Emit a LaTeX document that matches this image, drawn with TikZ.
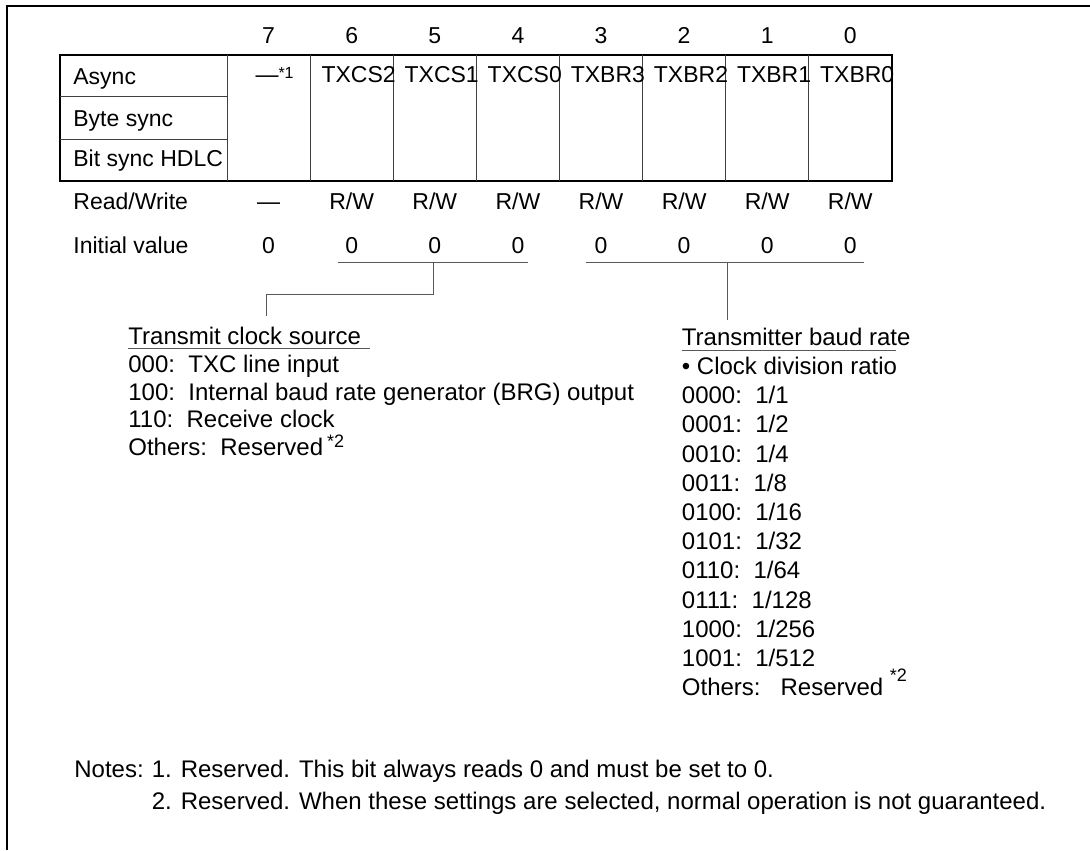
\documentclass[tikz,border=0pt]{standalone}
\usepackage{fontspec}
\setmainfont{Liberation Sans}
\usetikzlibrary{positioning}
\tikzset{
  frame line/.style={
    line width=1.25pt
  },
  reg box/.style={
    line width=1pt
  },
  cell line/.style={
    line width=0.5pt,
    color=black!75
  },
  lead line/.style={
    line width=0.5pt,
    color=black!65
  },
  tab text/.style={
    font=\fontsize{11.5}{13}\selectfont,
    inner sep=0pt,
    text height=1.6ex,
    text depth=0.4ex
  },
  list text/.style={
    anchor=west,
    font=\fontsize{12}{14}\selectfont,
    inner sep=0pt,
    text height=1.6ex,
    text depth=0.4ex
  }
}
\begin{document}
\begin{tikzpicture}[x=0.5pt, y=-0.5pt]
    \useasboundingbox (0,0) rectangle (1090,850);
    % 外框 (只有上边和左边)
    \draw[frame line] (7,850) -- (7,6) -- (1090,6);

    % 寄存器表格
    \draw[reg box] (60,55) rectangle (892,181);
    \draw[cell line] (60,97) -- (227,97);
    \draw[cell line] (60,139.5) -- (227,139.5);
    \foreach \i in {0,1,...,7} {
      \draw[cell line] (227+83.1*\i,55) -- (227+83.1*\i,181);
    }
    \node[tab text, anchor=west] (async) at (73,78) {Async};
    \node[tab text, anchor=west] (bytesync) at (73,120) {Byte sync};
    \node[tab text, anchor=west] (bitsync) at (73,160.5) {Bit sync HDLC};
    \node[tab text, anchor=west] (rwlabel) at (73,203) {Read/Write};
    \node[tab text, anchor=west] (initlabel) at (73,247) {Initial value};

    % 位号, 读写, 初始值
    \foreach \b [count=\i from 0] in {7,6,...,0} {
      \node[tab text] (bit\b) at (268.6+83.1*\i,37) {\b};
      \node[tab text] (rw\b) at (268.6+83.1*\i,203) {\ifnum\b=7 —\else R/W\fi};
      \node[tab text] (init\b) at (268.6+83.1*\i,247) {0};
    }

    % 位名称
    \node[tab text] (rsv) at (267,76) {—\rlap{\raisebox{0.35ex}{\fontsize{8}{9}\selectfont *1}}};
    \foreach \n [count=\i from 1] in {TXCS2,TXCS1,TXCS0,TXBR3,TXBR2,TXBR1,TXBR0} {
      \node[tab text, anchor=west] (name\i) at (227+83.1*\i+11,76) {\n};
    }

    % 引出线
    \coordinate (csl) at (338,262.5);
    \coordinate (csr) at (528,262.5);
    \coordinate (csm) at (433,262.5);
    \coordinate (csk) at (266,294.5);
    \coordinate (cse) at (266,316);
    \draw[lead line] (csl) -- (csr);
    \draw[lead line] (csm) |- (csk) -- (cse);
    \coordinate (brl) at (586,262.5);
    \coordinate (brr) at (864,262.5);
    \coordinate (brm) at (727,262.5);
    \coordinate (bre) at (727,320);
    \draw[lead line] (brl) -- (brr);
    \draw[lead line] (brm) -- (bre);

    % 时钟源说明
    \node[list text] (tcs) at (128,338.6) {Transmit clock source};
    \draw[lead line] (128,348) -- (370,348);
    \foreach \t [count=\i from 1] in {{000:\ \ TXC line input},
        {100:\ \ Internal baud rate generator (BRG) output},
        {110:\ \ Receive clock},
        {Others:\ \ Reserved\,\raisebox{0.6ex}{\fontsize{9}{10}\selectfont *2}}} {
      \node[list text] (tcs\i) at (128,338.6+27.6*\i) {\t};
    }

    % 波特率说明
    \node[list text] (tbr) at (681.5,339) {Transmitter baud rate};
    \draw[lead line] (681.5,350.5) -- (896,350.5);
    \foreach \t [count=\i from 1] in {{\textbullet\ Clock division ratio},
        {0000:\ \ 1/1}, {0001:\ \ 1/2}, {0010:\ \ 1/4}, {0011:\ \ 1/8},
        {0100:\ \ 1/16}, {0101:\ \ 1/32}, {0110:\ \ 1/64}, {0111:\ \ 1/128},
        {1000:\ \ 1/256}, {1001:\ \ 1/512},
        {Others:\ \ \ Reserved\ \raisebox{1.1ex}{\fontsize{9}{10}\selectfont *2}}} {
      \node[list text] (tbr\i) at (681.5,339+29.2*\i) {\t};
    }

    % 注
    \node[list text] (notes) at (74,771) {Notes:};
    \node[list text] (note1) at (151.5,771) {1. Reserved. This bit always reads 0 and must be set to 0.};
    \node[list text] (note2) at (151.5,803) {2. Reserved. When these settings are selected, normal operation is not guaranteed.};

  \end{tikzpicture}
\end{document}
